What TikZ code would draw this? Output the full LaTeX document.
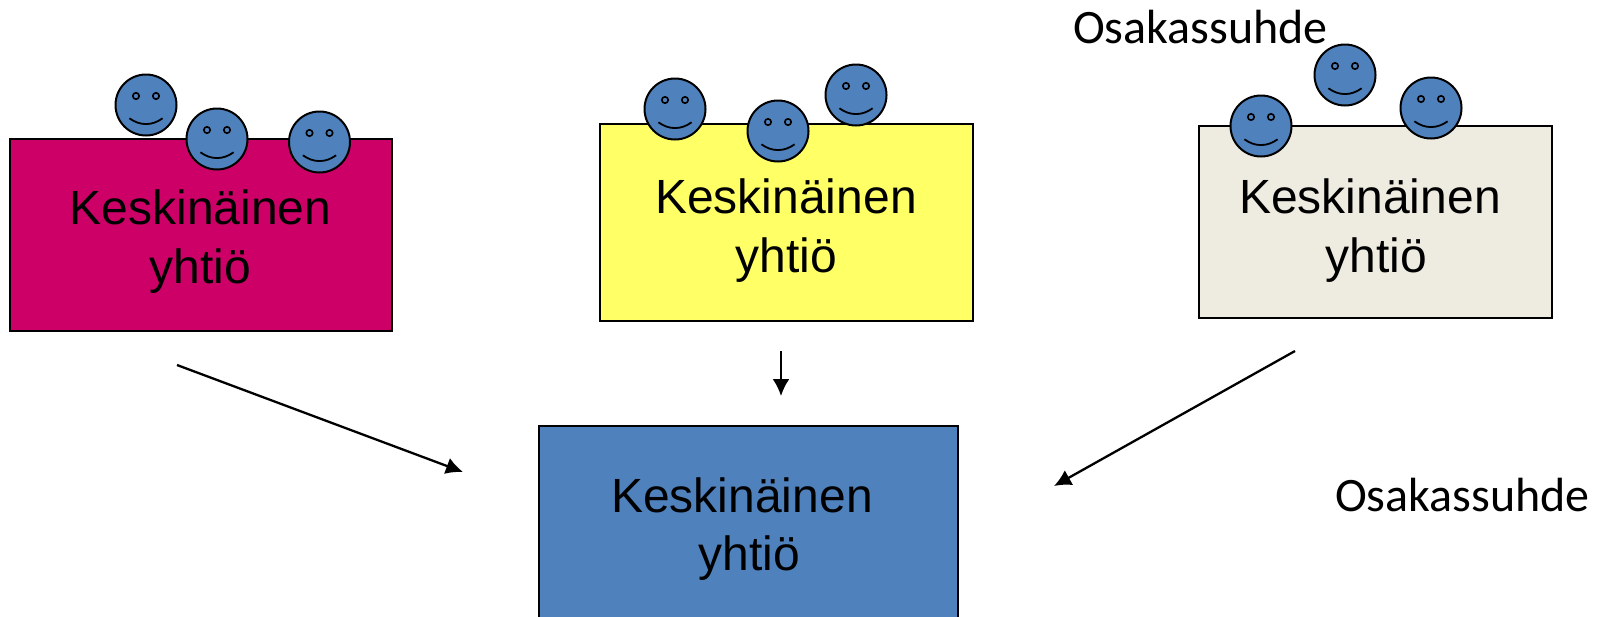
\documentclass[tikz,border=0pt]{standalone}
\usepackage{fontspec}
\setmainfont{Liberation Sans}
\newfontfamily\calibrilike{Carlito}
\usetikzlibrary{arrows.meta}
\definecolor{crimsonbox}{HTML}{CC0066}
\definecolor{yellowbox}{HTML}{FFFF66}
\definecolor{beigebox}{HTML}{EEECE1}
\definecolor{bluebox}{HTML}{4F81BD}
\tikzset{
  x=1pt,y=-1pt,
  boxshape/.style={draw=black,line width=2pt,rectangle,inner sep=0pt,anchor=north west},
  boxtext/.style={align=center,inner sep=0pt,font=\fontsize{48}{58.5}\selectfont},
  relation/.style={font=\calibrilike\fontsize{48}{56}\selectfont,inner sep=0pt,anchor=base west},
  link/.style={line width=2.3pt,-{Latex[length=17pt,width=17pt]}},
  smiley/.pic={
    \node[circle,draw=black,line width=2pt,fill=bluebox,minimum size=61pt,inner sep=0pt] (-head) at (0,0) {};
    \draw[line width=1.6pt] (-10,-9) circle[radius=3.2];
    \draw[line width=1.6pt] (10,-9) circle[radius=3.2];
    \draw[line width=1.8pt] (-16.6,13.3) .. controls (-6,21) and (6,21) .. (16.6,13.3);
  }
}
\begin{document}
\begin{tikzpicture}
\useasboundingbox (0,0) rectangle (1602,616);
\clip (0,0) rectangle (1602,616);
% boxes
\node[boxshape,fill=crimsonbox,minimum width=382pt,minimum height=192pt] (box1) at (8.5,137.5) {};
\node[boxshape,fill=yellowbox,minimum width=373pt,minimum height=197pt] (box2) at (598.5,122.5) {};
\node[boxshape,fill=beigebox,minimum width=353pt,minimum height=192pt] (box3) at (1198,125) {};
\node[boxshape,fill=bluebox,minimum width=419pt,minimum height=230pt] (box4) at (537.5,425) {};
% box texts
\node[boxtext] (text1) at (200.5,241.5) {Keskinäinen\\yhtiö};
\node[boxtext] (text2) at (786,230.5) {Keskinäinen\\yhtiö};
\node[boxtext] (text3) at (1370,230.5) {Keskinäinen\\\hspace*{13pt}yhtiö};
\node[boxtext] (text4) at (742,529) {Keskinäinen\\\hspace*{15pt}yhtiö};
% faces
\pic (f11) at (146,105) {smiley};
\pic (f12) at (217,139) {smiley};
\pic (f13) at (319.5,142) {smiley};
\pic (f21) at (675,109) {smiley};
\pic (f22) at (778,131) {smiley};
\pic (f23) at (856,95) {smiley};
\pic (f31) at (1261,126) {smiley};
\pic (f32) at (1345,75) {smiley};
\pic (f33) at (1431,108) {smiley};
% relation labels
\node[relation] (rel1) at (1073,43.5) {Osakassuhde};
\node[relation] (rel2) at (1335,511) {Osakassuhde};
% connectors
\coordinate (a1s) at (177,365);
\coordinate (a1e) at (463,472);
\coordinate (a2s) at (781,351);
\coordinate (a2e) at (781,396);
\coordinate (a3s) at (1295,351);
\coordinate (a3e) at (1054,486);
\draw[link] (a1s) -- (a1e);
\draw[link] (a2s) -- (a2e);
\draw[link] (a3s) -- (a3e);
\end{tikzpicture}
\end{document}
